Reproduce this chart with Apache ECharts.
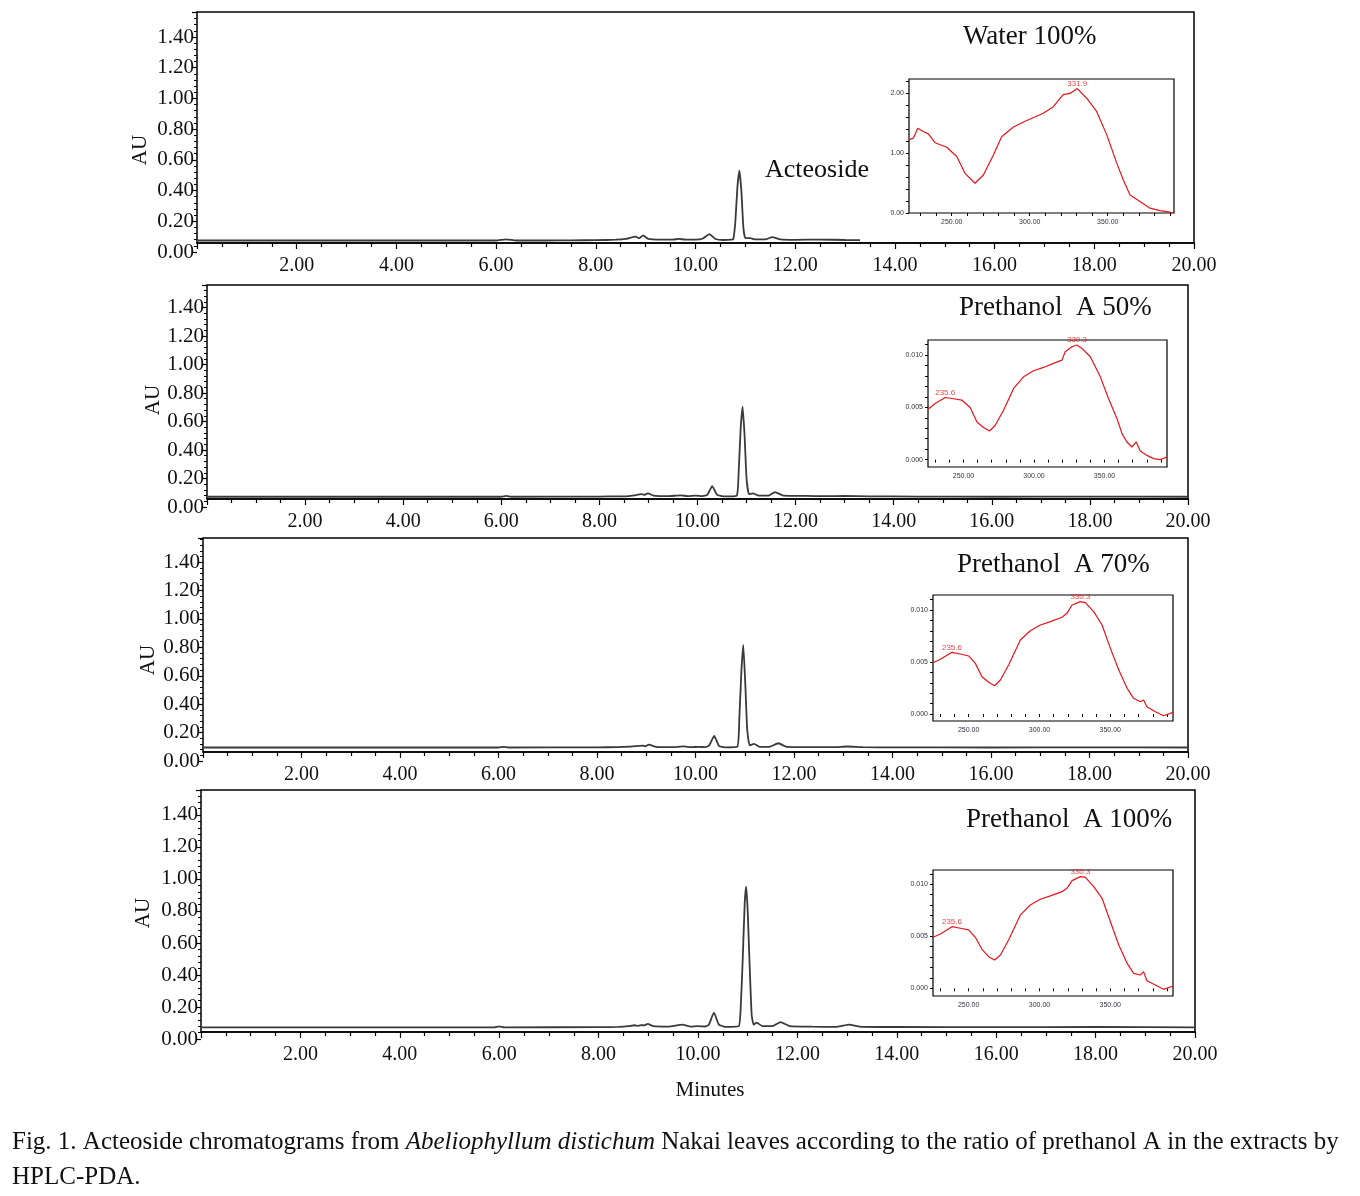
<!DOCTYPE html>
<html><head><meta charset="utf-8">
<script src="https://cdn.jsdelivr.net/npm/echarts@6/dist/echarts.min.js"></script>
<style>html,body{margin:0;padding:0;background:#fff}#c{width:1360px;height:1196px}</style>
</head><body><div id="c"></div>
<script>
// ---------- DATA ----------
// Chromatogram traces (retention time in minutes, absorbance AU)
const t1 = [0,1,2,3,4,5,6.0,6.2,6.4,7,7.5,8.0,8.4,8.6,8.8,8.87,8.95,9.05,9.3,9.55,9.66,9.8,10.0,10.15,10.28,10.4,10.55,10.72,10.76,10.80,10.84,10.88,10.92,10.96,11.0,11.1,11.2,11.4,11.54,11.7,12.0,12.5,13.0,13.3];
const v1 = [0.075,0.075,0.075,0.075,0.075,0.075,0.075,0.082,0.075,0.075,0.076,0.077,0.08,0.085,0.10,0.09,0.108,0.085,0.08,0.08,0.086,0.08,0.08,0.088,0.117,0.085,0.078,0.08,0.085,0.2,0.42,0.53,0.40,0.16,0.09,0.09,0.082,0.082,0.097,0.082,0.079,0.081,0.078,0.077];
const t2 = [0,2,4,6.0,6.1,6.2,8.0,8.4,8.6,8.75,8.84,8.91,8.99,9.1,9.4,9.66,9.8,9.96,10.1,10.2,10.30,10.40,10.55,10.80,10.84,10.88,10.92,10.96,11.00,11.05,11.13,11.25,11.45,11.58,11.75,12.2,12.6,13.0,13.5,14.5,16,18,20];
const v2 = [0.072,0.072,0.072,0.072,0.078,0.072,0.073,0.075,0.077,0.083,0.091,0.085,0.096,0.08,0.076,0.082,0.076,0.08,0.076,0.085,0.147,0.085,0.074,0.08,0.25,0.55,0.704,0.5,0.2,0.09,0.096,0.08,0.08,0.105,0.08,0.078,0.076,0.078,0.075,0.073,0.072,0.073,0.072];
const t3 = [0,2,4,6.0,6.1,6.2,8.0,8.4,8.7,8.92,8.98,9.05,9.2,9.5,9.77,9.9,10.07,10.2,10.28,10.38,10.48,10.6,10.85,10.89,10.93,10.97,11.01,11.05,11.1,11.19,11.3,11.5,11.68,11.85,12.3,12.8,13.08,13.4,14,16,18,20];
const v3 = [0.095,0.095,0.095,0.095,0.1,0.095,0.096,0.098,0.102,0.108,0.104,0.115,0.1,0.097,0.103,0.097,0.1,0.097,0.11,0.176,0.105,0.096,0.1,0.3,0.62,0.817,0.55,0.22,0.11,0.12,0.1,0.1,0.125,0.1,0.098,0.097,0.102,0.097,0.096,0.095,0.096,0.095];
const t4 = [0,2,4,5.9,6.0,6.1,8.0,8.4,8.6,8.72,8.8,8.86,8.92,8.99,9.1,9.4,9.69,9.85,10.0,10.15,10.22,10.32,10.42,10.55,10.82,10.86,10.9,10.94,10.97,11.0,11.04,11.08,11.12,11.18,11.3,11.5,11.66,11.85,12.3,12.8,13.04,13.3,14,16,18,20];
const v4 = [0.073,0.073,0.073,0.073,0.079,0.073,0.074,0.076,0.08,0.086,0.082,0.087,0.085,0.094,0.08,0.077,0.09,0.077,0.08,0.078,0.09,0.165,0.09,0.076,0.08,0.2,0.5,0.85,0.952,0.8,0.45,0.15,0.09,0.102,0.08,0.08,0.106,0.08,0.077,0.076,0.09,0.076,0.075,0.074,0.075,0.073];

// UV spectra in insets (wavelength nm, AU)
const s1nm = [222.6,225.4,228.2,231.8,235,239.3,246.8,253.2,258.5,264.9,270.3,276.7,282,289.5,298.1,308.7,315.1,321.5,325.8,330.5,336.5,342.9,349.4,355.8,360,364.3,370.7,377.1,383.5,388.8,392];
const s1au = [1.22,1.245,1.41,1.355,1.317,1.17,1.095,0.94,0.66,0.495,0.633,0.967,1.27,1.43,1.54,1.66,1.77,1.97,1.99,2.07,1.91,1.69,1.30,0.83,0.55,0.30,0.19,0.08,0.04,0.02,0.0];
const s2nm = [224.8,229.9,237,241.8,248.9,254.7,259.5,264.2,268.4,272.5,278.4,285.5,292.6,299.6,306.7,313.8,319.8,322.1,326.9,330.4,334,339.9,347,352.8,358.8,362.4,365.9,369.4,372.5,375.3,380.1,384.8,389.5,394.3];
const s2au = [0.00482,0.00536,0.00594,0.00584,0.00568,0.00498,0.0036,0.00307,0.00274,0.00329,0.00472,0.0068,0.00791,0.00849,0.00881,0.0092,0.00951,0.01031,0.01079,0.01095,0.01063,0.00983,0.00791,0.00584,0.00393,0.00249,0.00169,0.00121,0.00169,0.00083,0.00041,0.0001,0.0,0.00025];
const s3nm = [224.8,230,238.2,244.1,250,254.7,259.4,264.1,268.3,272.4,278.2,286.5,293.5,300.6,307.7,315.9,319.4,323,328.9,332.4,338.3,344.2,350.1,356,361.9,366.5,371.2,373.5,375.9,381.8,387.7,394.3];
const s3au = [0.00493,0.00526,0.00593,0.00577,0.00558,0.00487,0.00359,0.00305,0.00272,0.00327,0.00471,0.00712,0.00801,0.00856,0.00888,0.0093,0.00968,0.01048,0.0108,0.0107,0.00984,0.00856,0.00631,0.00423,0.00247,0.00151,0.00118,0.00135,0.0007,0.00022,-0.00016,0.00016];
const s4nm = [224.8,230,238.2,244.1,250,254.7,259.4,264.1,268.3,272.4,278.2,286.5,293.5,300.6,307.7,315.9,319.4,323,328.9,332.4,338.3,344.2,350.1,356,361.9,366.5,371.2,373.5,375.9,381.8,387.7,394.3];
const s4au = [0.0049,0.00522,0.00592,0.00577,0.00561,0.0049,0.00375,0.00304,0.00272,0.0032,0.00464,0.00705,0.00801,0.00856,0.00888,0.00929,0.00961,0.01035,0.01073,0.01067,0.00977,0.00865,0.0064,0.00416,0.0024,0.00144,0.00128,0.0016,0.00073,0.00032,-0.0001,0.00022];

// Peak annotations in insets [nm, AU, label]
const pk1 = [[330.5,2.07,'331.9']];
const pk2 = [[237,0.00594,'235.6'],[330.4,0.01095,'330.3']];
const pk3 = [[238.2,0.00593,'235.6'],[328.9,0.0108,'330.3']];
const pk4 = [[238.2,0.00592,'235.6'],[328.9,0.01073,'330.3']];

const xTickLabels = [2,4,6,8,10,12,14,16,18,20];
const titles = ['Water 100%','Prethanol  A 50%','Prethanol  A 70%','Prethanol  A 100%'];

// ---------- LAYOUT ----------
const H = 1196;
const mainLayout = [
  {left:197,right:166,top:12,zeroY:252,axisY:243,ymax:1.563},
  {left:207,right:172,top:285,zeroY:507,axisY:499,ymax:1.558},
  {left:203,right:172,top:538,zeroY:761,axisY:752,ymax:1.570},
  {left:201,right:165,top:790,zeroY:1039,axisY:1032,ymax:1.556}
];
const insetLayout = [
  {left:909,right:186,top:79,bottom:H-213,ymin:0,ymax:2.23,xmin:222.6,xmax:392.5,yl:[0,1,2],yt:[0,0.2,0.4,0.6,0.8,1,1.2,1.4,1.6,1.8,2,2.2],dec:2},
  {left:928,right:193,top:340,bottom:H-467,ymin:-0.0007,ymax:0.01143,xmin:224.8,xmax:394.3,yl:[0,0.005,0.01],yt:[0,0.001,0.002,0.003,0.004,0.005,0.006,0.007,0.008,0.009,0.01,0.011],dec:3},
  {left:933,right:187,top:595,bottom:H-721,ymin:-0.00067,ymax:0.01144,xmin:224.8,xmax:394.3,yl:[0,0.005,0.01],yt:[0,0.001,0.002,0.003,0.004,0.005,0.006,0.007,0.008,0.009,0.01,0.011],dec:3},
  {left:933,right:187,top:870,bottom:H-996,ymin:-0.00074,ymax:0.01137,xmin:224.8,xmax:394.3,yl:[0,0.005,0.01],yt:[0,0.001,0.002,0.003,0.004,0.005,0.006,0.007,0.008,0.009,0.01,0.011],dec:3}
];
const titlePos = [[963,37],[959,308],[957,565],[966,820]];
const auPos = [[140,150],[153,400],[148,660],[143,913]];

const SERIF = '"Liberation Serif","Times New Roman",serif';
const traces = [[t1,v1],[t2,v2],[t3,v3],[t4,v4]];
const spectra = [[s1nm,s1au],[s2nm,s2au],[s3nm,s3au],[s4nm,s4au]];
const peaks = [pk1,pk2,pk3,pk4];

const grid=[], xAxis=[], yAxis=[], series=[], graphic=[];
const wl = [];
for (let w=230; w<=390; w+=10) wl.push(w);

mainLayout.forEach((L,i)=>{
  const gA = grid.length;
  grid.push({left:L.left,right:L.right,top:L.top,bottom:H-L.axisY,show:true,borderColor:'#000',borderWidth:1.5,backgroundColor:'transparent'});
  const gB = grid.length;
  grid.push({left:L.left,right:L.right,top:L.top,bottom:H-L.zeroY,show:false});
  xAxis.push({gridIndex:gA,type:'value',min:0,max:20,interval:2,
    axisLine:{show:true,onZero:false,lineStyle:{color:'#000',width:1.5}},
    axisTick:{show:true,inside:false,length:6,lineStyle:{color:'#000',width:1.2}},
    minorTick:{show:true,splitNumber:4,length:4,lineStyle:{color:'#000',width:1.2}},
    splitLine:{show:false},
    axisLabel:{show:true,margin:13,fontFamily:SERIF,fontSize:20,color:'#111',
      customValues:xTickLabels,formatter:v=>v.toFixed(2)}});
  const xb = xAxis.length;
  xAxis.push({gridIndex:gB,type:'value',min:0,max:20,show:false});
  yAxis.push({gridIndex:gA,type:'value',min:0,max:1,show:false});
  const yb = yAxis.length;
  yAxis.push({gridIndex:gB,type:'value',min:0,max:L.ymax,interval:0.2,
    axisLine:{show:false},
    axisTick:{show:true,inside:false,length:5,lineStyle:{color:'#000',width:1.2}},
    minorTick:{show:true,splitNumber:5,length:3,lineStyle:{color:'#000',width:1}},
    splitLine:{show:false},
    axisLabel:{show:true,showMaxLabel:false,margin:3,fontFamily:SERIF,fontSize:21,color:'#111',formatter:v=>v.toFixed(2)}});
  const [tt,vv] = traces[i];
  series.push({type:'line',xAxisIndex:xb,yAxisIndex:yb,data:tt.map((t,k)=>[t,vv[k]]),
    showSymbol:false,symbol:'none',smooth:0.15,lineStyle:{color:'#3a3a3a',width:1.8},z:3,silent:true});
  graphic.push({type:'text',x:titlePos[i][0],y:titlePos[i][1],style:{text:titles[i],font:'27px '+SERIF,fill:'#111',textVerticalAlign:'middle',textAlign:'left'}});
  graphic.push({type:'text',x:auPos[i][0],y:auPos[i][1],rotation:Math.PI/2,style:{text:'AU',font:'21px '+SERIF,fill:'#111',textVerticalAlign:'middle',textAlign:'center'}});
});

insetLayout.forEach((L,i)=>{
  const g = grid.length;
  grid.push({left:L.left,right:L.right,top:L.top,bottom:L.bottom,show:true,borderColor:'#000',borderWidth:1.2,backgroundColor:'#fff',z:5});
  const xi = xAxis.length;
  xAxis.push({gridIndex:g,type:'value',min:L.xmin,max:L.xmax,z:6,
    axisLine:{show:false},
    axisTick:{show:true,length:3,customValues:wl,lineStyle:{color:'#000',width:1}},
    splitLine:{show:false},
    axisLabel:{show:true,margin:6,fontSize:7,fontFamily:'"Liberation Sans",Arial,sans-serif',color:'#334',customValues:[250,300,350],formatter:v=>v.toFixed(2)}});
  const yi = yAxis.length;
  yAxis.push({gridIndex:g,type:'value',min:L.ymin,max:L.ymax,z:6,
    axisLine:{show:false},
    axisTick:{show:true,length:3,customValues:L.yt,lineStyle:{color:'#000',width:1}},
    splitLine:{show:false},
    axisLabel:{show:true,margin:5,fontSize:7,fontFamily:'"Liberation Sans",Arial,sans-serif',color:'#334',customValues:L.yl,formatter:v=>v.toFixed(L.dec)}});
  const [nm,au] = spectra[i];
  series.push({type:'line',xAxisIndex:xi,yAxisIndex:yi,data:nm.map((w,k)=>[w,au[k]]),
    showSymbol:false,symbol:'none',lineStyle:{color:'#e8141c',width:1.2},z:7,silent:true});
  series.push({type:'scatter',xAxisIndex:xi,yAxisIndex:yi,symbolSize:0,z:8,silent:true,
    data:peaks[i].map(p=>({value:[p[0],p[1]],name:p[2]})),
    label:{show:true,position:'top',distance:1,formatter:p=>p.name,color:'#e8141c',fontSize:8,fontFamily:'"Liberation Sans",Arial,sans-serif'}});
});

graphic.push({type:'text',x:765,y:170,style:{text:'Acteoside',font:'26px '+SERIF,fill:'#111',textVerticalAlign:'middle',textAlign:'left'}});
graphic.push({type:'text',x:710,y:1090,style:{text:'Minutes',font:'21px '+SERIF,fill:'#111',textVerticalAlign:'middle',textAlign:'center'}});
graphic.push({type:'text',x:12,y:1142,style:{
  text:'{a|Fig. 1. Acteoside chromatograms from }{i|Abeliophyllum distichum}{a| Nakai leaves according to the ratio of prethanol A in the extracts by}',
  rich:{a:{fontFamily:SERIF,fontSize:25,fill:'#111',color:'#111'},i:{fontFamily:SERIF,fontSize:25,fontStyle:'italic',fill:'#111',color:'#111'}},
  textVerticalAlign:'middle',textAlign:'left'}});
graphic.push({type:'text',x:12,y:1177,style:{text:'HPLC-PDA.',font:'25px '+SERIF,fill:'#111',textVerticalAlign:'middle',textAlign:'left'}});

const chart = echarts.init(document.getElementById('c'),null,{renderer:'canvas'});
chart.setOption({animation:false,backgroundColor:'#fff',grid,xAxis,yAxis,series,graphic});
</script></body></html>
